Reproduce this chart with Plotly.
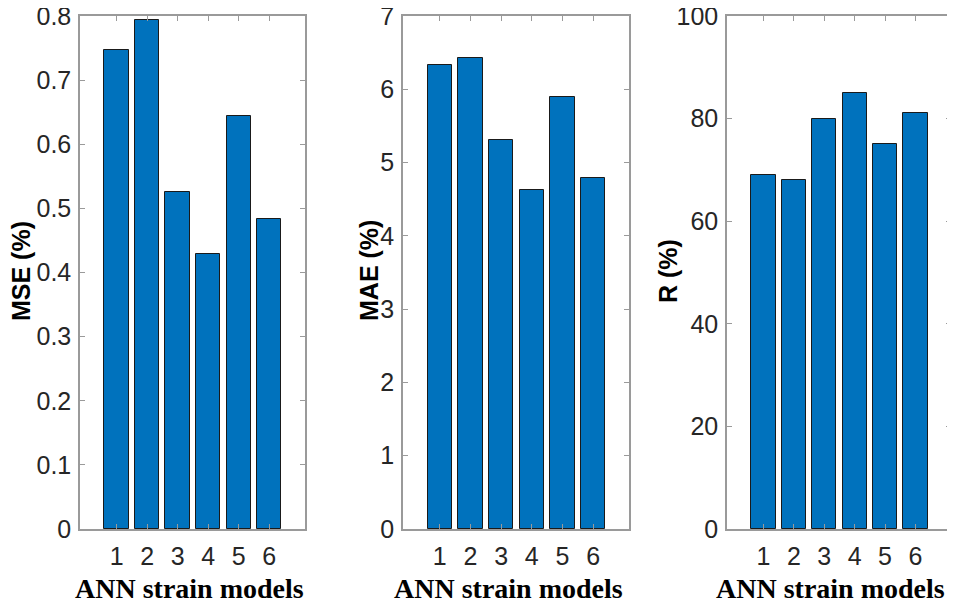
import plotly.graph_objects as go

models = [1, 2, 3, 4, 5, 6]
mse_vals = [0.747, 0.794, 0.525, 0.429, 0.644, 0.484]
mae_vals = [6.33, 6.43, 5.31, 4.62, 5.90, 4.79]
r_vals = [69, 68, 80, 85, 75, 81]

mse_ticks = [0, 0.1, 0.2, 0.3, 0.4, 0.5, 0.6, 0.7, 0.8]
mae_ticks = [0, 1, 2, 3, 4, 5, 6, 7]
r_ticks = [0, 20, 40, 60, 80, 100]

y_titles = ["MSE (%)", "MAE (%)", "R (%)"]
x_title = "ANN strain models"

W, H = 955, 607
OFF = 8  # page body margin


def px(v):
    return (v - OFF) / W


def py(v):
    return 1 - (v - OFF) / H


panels = [
    dict(x0=80, x1=305, vals=mse_vals, ticks=mse_ticks, rng=[0, 0.8], title=y_titles[0], tx=21, xc=189),
    dict(x0=403, x1=629, vals=mae_vals, ticks=mae_ticks, rng=[0, 7], title=y_titles[1], tx=369, xc=509),
    dict(x0=727, x1=951, vals=r_vals, ticks=r_ticks, rng=[0, 100], title=y_titles[2], tx=668, xc=830),
]
ytop, ybot = 16, 529

fig = go.Figure()
axis_color = "#9a9a9a"
tick_font = dict(family="Liberation Sans, Arial, sans-serif", size=25, color="#262626")
annotations = []
for i, p in enumerate(panels):
    n = "" if i == 0 else str(i + 1)
    fig.add_trace(go.Bar(
        x=models, y=p["vals"], width=0.8,
        marker=dict(color="#0072BD", line=dict(color="#1a1a1a", width=1)),
        xaxis="x" + n, yaxis="y" + n, showlegend=False,
    ))
    fig.layout["xaxis" + n] = dict(
        domain=[px(p["x0"]), px(p["x1"])], anchor="y" + n, automargin=False,
        range=[-0.2, 7.17], tickvals=models, ticktext=[str(m) for m in models],
        showline=True, mirror="ticks", linecolor=axis_color, linewidth=1.5,
        ticks="inside", ticklen=5, tickcolor=axis_color, showgrid=False, zeroline=False,
        tickfont=tick_font, ticklabelstandoff=4, ticklabeloverflow="allow",
    )
    fig.layout["yaxis" + n] = dict(
        domain=[py(ybot), py(ytop)], anchor="x" + n, automargin=False,
        range=p["rng"], tickvals=p["ticks"], ticktext=[("%g" % t) for t in p["ticks"]],
        showline=True, mirror="ticks", linecolor=axis_color, linewidth=1.5,
        ticks="inside", ticklen=5, tickcolor=axis_color, showgrid=False, zeroline=False,
        tickfont=tick_font, ticklabelstandoff=2, ticklabeloverflow="allow",
    )
    annotations.append(dict(
        text="<b>%s</b>" % p["title"], xref="paper", yref="paper",
        x=px(p["tx"]), y=py(271), textangle=-90, showarrow=False,
        font=dict(family="Liberation Sans, Arial, sans-serif", size=25, color="#000000"),
        xanchor="center", yanchor="middle",
    ))
    annotations.append(dict(
        text="<b>%s</b>" % x_title, xref="paper", yref="paper",
        x=px(p["xc"]), y=py(588), showarrow=False,
        font=dict(family="Liberation Serif, Times New Roman, serif", size=28, color="#000000"),
        xanchor="center", yanchor="middle",
    ))

fig.update_layout(
    width=W, height=H, margin=dict(l=0, r=0, t=0, b=0, autoexpand=False),
    paper_bgcolor="white", plot_bgcolor="white",
    annotations=annotations, bargap=0,
)
fig.write_html("out.html")
